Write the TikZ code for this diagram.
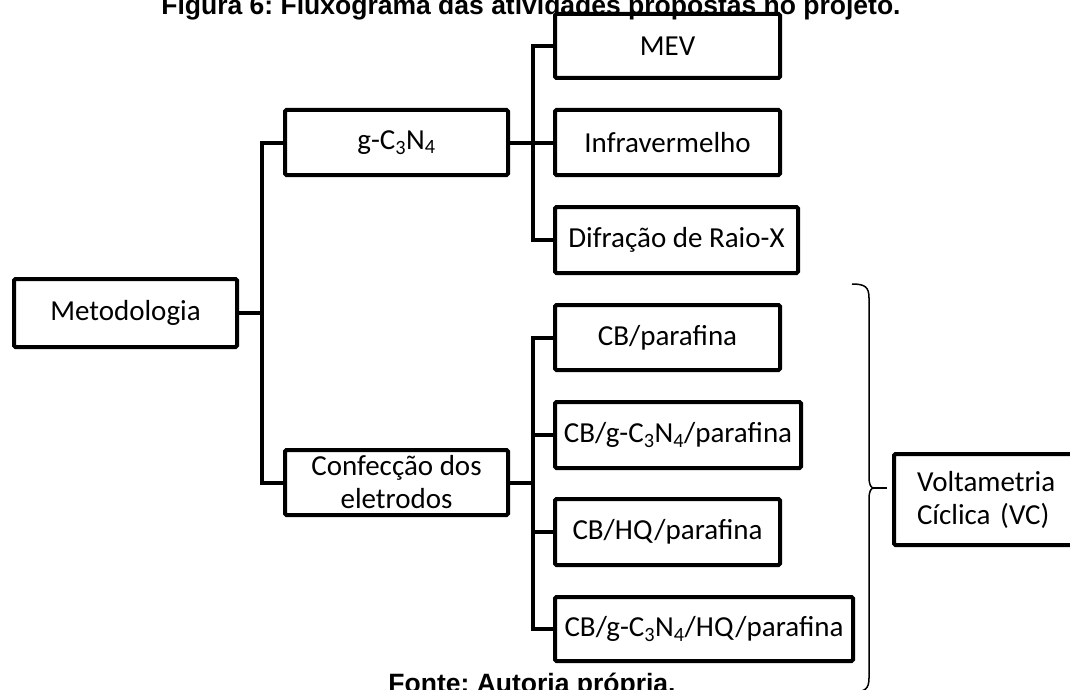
\documentclass[tikz,border=0pt]{standalone}
\usepackage{fontspec}
\setmainfont{Carlito}
\newfontfamily\legendafont{Liberation Sans}
\usetikzlibrary{positioning}
\frenchspacing
\tikzset{
    %Define standard box
    caixa/.style={
      rectangle,
      rounded corners=1.5pt,
      draw=black, line width=4pt,
      minimum height=65pt,
      inner sep=2pt,
      text centered,
      font=\fontsize{29}{33}\selectfont},
    ligacao/.style={
      draw=black, line width=4pt},
    chave/.style={
      draw=black, line width=1.5pt},
    legenda/.style={
      anchor=base,
      font=\legendafont\bfseries\fontsize{26.5}{32}\selectfont},
}

\begin{document}
\begin{tikzpicture}[x=1pt,y=-1pt]
    \useasboundingbox (0,0) rectangle (1070,690);
    % titulo e fonte
    \node (titulo) [legenda] at (531,15)
          {Figura 6: Fluxograma das atividades propostas no projeto.};
    \node (fonte) [legenda] at (532,692)
          {Fonte: Autoria própria.};
    % caixas
    \node (metod) [caixa, anchor=west, minimum width=223pt, minimum height=68pt] at (12,313)
          {Metodologia};
    \node (gcn) [caixa, anchor=west, minimum width=223pt] at (283,142.5)
          {g-C\textsubscript{3}N\textsubscript{4}};
    \node (conf) [caixa, anchor=west, minimum width=223pt, align=center] at (283,482.5)
          {Confecção dos\\eletrodos};
    \node (mev) [caixa, anchor=west, minimum width=225pt, minimum height=64pt] at (553,46)
          {MEV};
    \node (infra) [caixa, anchor=west, minimum width=225pt] at (553,142.5)
          {Infravermelho};
    \node (difr) [caixa, anchor=west, minimum width=243pt, minimum height=66pt] at (553,240)
          {Difração de Raio-X};
    \node (cbp) [caixa, anchor=west, minimum width=225pt] at (553,337.5)
          {CB/parafina};
    \node (cbg) [caixa, anchor=west, minimum width=246pt, minimum height=66pt] at (553,435)
          {CB/g-C\textsubscript{3}N\textsubscript{4}/parafina};
    \node (cbhq) [caixa, anchor=west, minimum width=225pt, minimum height=66pt] at (553,532)
          {CB/HQ/parafina};
    \node (cbghq) [caixa, anchor=west, minimum width=298pt, minimum height=64pt] at (553,629)
          {CB/g-C\textsubscript{3}N\textsubscript{4}/HQ/parafina};
    \node (volt) [caixa, anchor=west, align=left, text width=160pt, inner xsep=23pt,
                  minimum height=91pt] at (892,499.5)
          {Voltametria\\Cíclica (VC)};
    % ligacoes
    \coordinate (j1) at (262,313);
    \coordinate (j2) at (533,142.5);
    \coordinate (j3) at (533,482.5);
    \draw [ligacao] (metod.east) -- (j1);
    \draw [ligacao] (gcn.west) -| (j1);
    \draw [ligacao] (conf.west) -| (j1);
    \draw [ligacao] (gcn.east) -- (j2);
    \draw [ligacao] (infra.west) -- (j2);
    \draw [ligacao] (mev.west) -| (j2);
    \draw [ligacao] (difr.west) -| (j2);
    \draw [ligacao] (conf.east) -- (j3);
    \draw [ligacao] (cbp.west) -| (j3);
    \draw [ligacao] (cbghq.west) -| (j3);
    \draw [ligacao] (cbg.west) -- (cbg.west -| j3);
    \draw [ligacao] (cbhq.west) -- (cbhq.west -| j3);
    % chave
    \coordinate (ponta) at (874,488);
    \draw [chave] (852,284) .. controls (865,284) and (869,287) .. (869,298)
          -- (869,477) .. controls (869,485) and (871,488) .. (ponta)
          .. controls (871,488) and (869,491) .. (869,499)
          -- (869,678) .. controls (869,689) and (865,692) .. (852,692);
    \draw [chave, line width=2pt] (ponta) -- ++(13,0);
\end{tikzpicture}
\end{document}
